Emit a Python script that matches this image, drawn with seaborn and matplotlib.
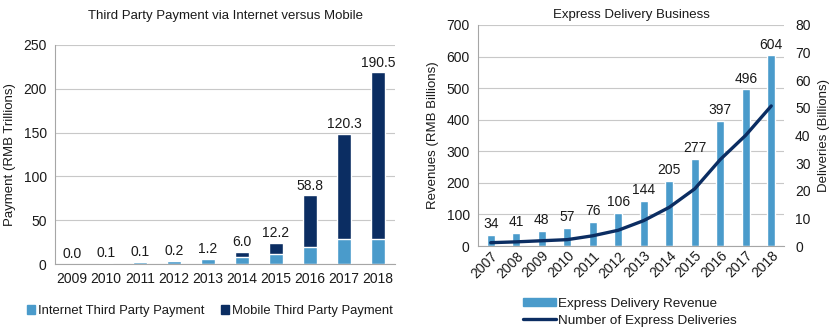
import numpy as np
import pandas as pd
import matplotlib
matplotlib.use("Agg")
import matplotlib.pyplot as plt
from matplotlib.patches import Patch
from matplotlib.lines import Line2D
import seaborn as sns

# ---- data ----
pay_years = ["2009", "2010", "2011", "2012", "2013", "2014", "2015", "2016", "2017", "2018"]
internet_pay = [0.5, 1.0, 2.2, 3.7, 5.4, 8.1, 11.9, 19.4, 28.2, 28.5]
mobile_pay = [0.0, 0.1, 0.1, 0.2, 1.2, 6.0, 12.2, 58.8, 120.3, 190.5]

exp_years = ["2007", "2008", "2009", "2010", "2011", "2012", "2013", "2014",
             "2015", "2016", "2017", "2018"]
exp_revenue = [34, 41, 48, 57, 76, 106, 144, 205, 277, 397, 496, 604]
exp_deliveries = [1.2, 1.5, 1.9, 2.3, 3.7, 5.7, 9.2, 14.0, 20.7, 31.3, 40.1, 50.7]

LIGHT = "#4A9BCB"
NAVY = "#0B2D62"
GRID = "#C8C8C8"
TXT = "#1A1A1A"

sns.set_theme(style="white")
plt.rcParams["font.family"] = ["Liberation Sans", "DejaVu Sans"]
plt.rcParams["text.color"] = TXT
plt.rcParams["axes.labelcolor"] = TXT
plt.rcParams["xtick.color"] = TXT
plt.rcParams["ytick.color"] = TXT

FS = 10

fig = plt.figure(figsize=(8.35, 3.33), dpi=100)

# ---- left: third party payment ----
pay = pd.DataFrame({"year": pay_years, "internet": internet_pay, "mobile": mobile_pay})
pay["total"] = pay["internet"] + pay["mobile"]

ax1 = fig.add_axes([55 / 835, 1 - 264 / 333, 340 / 835, 219 / 333])
sns.barplot(data=pay, x="year", y="total", color=NAVY, width=0.39,
            saturation=1, ax=ax1)
sns.barplot(data=pay, x="year", y="internet", color=LIGHT, width=0.39,
            saturation=1, ax=ax1)
for i, (tot, mob) in enumerate(zip(pay["total"], pay["mobile"])):
    ax1.text(i, tot + 3, f"{mob:.1f}", ha="center", va="bottom", fontsize=FS)
ax1.set_ylim(0, 250)
ax1.set_yticks(range(0, 251, 50))
ax1.set_xlim(-0.5, len(pay_years) - 0.5)
ax1.yaxis.grid(True, color=GRID, linewidth=0.8)
ax1.set_axisbelow(True)
for s in ["top", "right"]:
    ax1.spines[s].set_visible(False)
for s in ["left", "bottom"]:
    ax1.spines[s].set_color("#A6A6A6")
    ax1.spines[s].set_linewidth(0.8)
ax1.tick_params(axis="both", length=0, labelsize=FS, pad=6)
ax1.set_xlabel("")
ax1.set_ylabel("Payment (RMB Trillions)", fontsize=FS - 0.5, labelpad=5)
ax1.set_title("Third Party Payment via Internet versus Mobile", fontsize=FS - 0.5, pad=19)
fig.legend(handles=[Patch(color=LIGHT, label="Internet Third Party Payment"),
                    Patch(color=NAVY, label="Mobile Third Party Payment")],
           loc="center", bbox_to_anchor=(210 / 835, 1 - 311 / 333), ncol=2,
           frameon=False, fontsize=FS - 0.6, handlelength=0.6, handleheight=0.6,
           handletextpad=0.25, columnspacing=1.3)

# ---- right: express delivery ----
exp = pd.DataFrame({"year": exp_years, "revenue": exp_revenue,
                    "deliveries": exp_deliveries})

ax2 = fig.add_axes([478 / 835, 1 - 246 / 333, 306 / 835, 221 / 333])
sns.barplot(data=exp, x="year", y="revenue", color=LIGHT, width=0.3,
            saturation=1, ax=ax2)
for i, v in enumerate(exp["revenue"]):
    ax2.text(i, v + 12, f"{v}", ha="center", va="bottom", fontsize=FS)
ax2.set_ylim(0, 700)
ax2.set_yticks(range(0, 701, 100))
ax2.set_xlim(-0.5, len(exp_years) - 0.5)
ax2.yaxis.grid(True, color=GRID, linewidth=0.8)
ax2.set_axisbelow(True)
for s in ["top", "right"]:
    ax2.spines[s].set_visible(False)
for s in ["left", "bottom"]:
    ax2.spines[s].set_color("#A6A6A6")
    ax2.spines[s].set_linewidth(0.8)
ax2.tick_params(axis="both", length=0, labelsize=FS, pad=6)
ax2.tick_params(axis="x", pad=2)
plt.setp(ax2.get_xticklabels(), rotation=45, ha="right", rotation_mode="anchor")
ax2.set_xlabel("")
ax2.set_ylabel("Revenues (RMB Billions)", fontsize=FS - 0.5, labelpad=5)
ax2.set_title("Express Delivery Business", fontsize=FS - 0.5, pad=5)

ax3 = ax2.twinx()
sns.lineplot(x=np.arange(len(exp_years)), y=exp["deliveries"], color=NAVY,
             linewidth=2.4, ax=ax3, solid_capstyle="round", solid_joinstyle="round")
ax3.set_ylim(0, 80)
ax3.set_yticks(range(0, 81, 10))
for s in ax3.spines.values():
    s.set_visible(False)
ax3.tick_params(axis="y", length=0, labelsize=FS, pad=8)
ax3.set_ylabel("Deliveries (Billions)", fontsize=FS - 0.5, labelpad=5)
ax3.grid(False)

fig.legend(handles=[Patch(color=LIGHT, label="Express Delivery Revenue"),
                    Line2D([], [], color=NAVY, linewidth=2.4,
                           label="Number of Express Deliveries")],
           loc="upper left", bbox_to_anchor=(516 / 835, 1 - 291 / 333), ncol=1,
           frameon=False, fontsize=FS - 0.3, handlelength=2.5, handleheight=0.6,
           handletextpad=0.15, labelspacing=0.35, borderpad=0)

fig.savefig("out.png", dpi=100)
